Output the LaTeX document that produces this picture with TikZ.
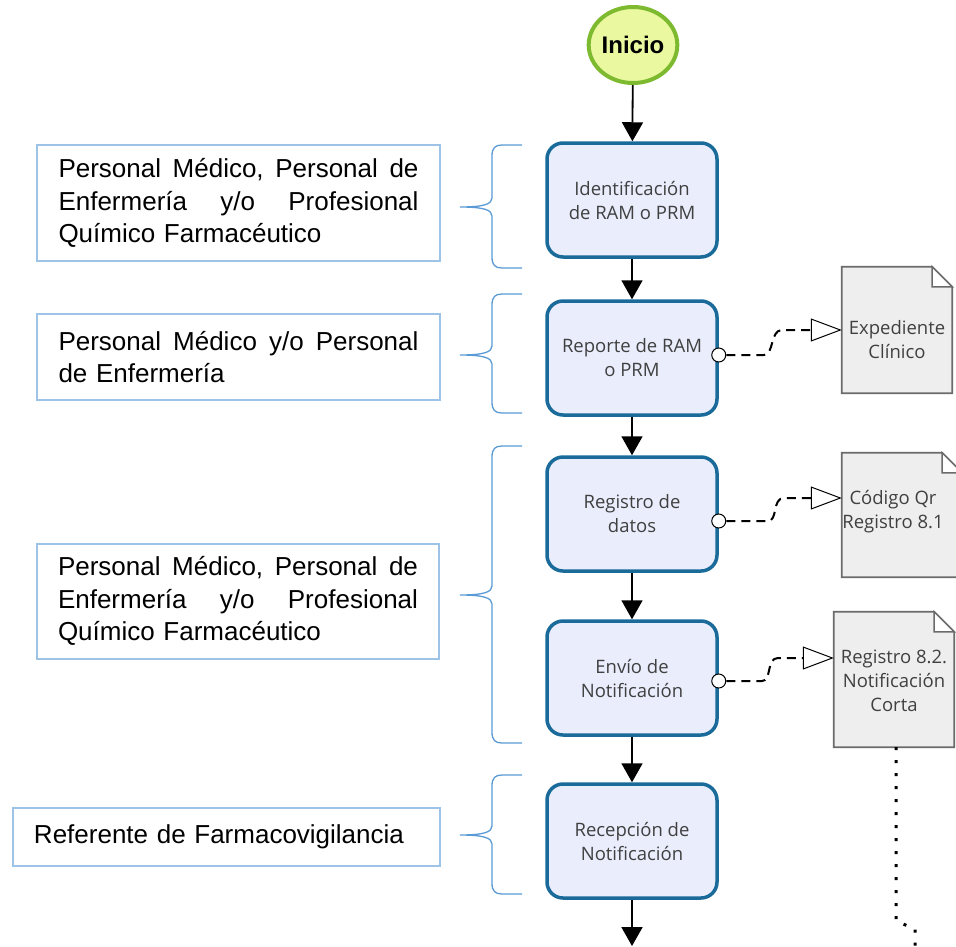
\documentclass[tikz,border=0pt]{standalone}
\usepackage{fontspec}
\setmainfont{Liberation Sans}
\newfontfamily\segf{Open Sans}
\usetikzlibrary{arrows.meta,shapes.geometric}
\definecolor{procfill}{HTML}{E9EDFC}
\definecolor{procdraw}{HTML}{1A6A9A}
\definecolor{lbdraw}{HTML}{9DC3E6}
\definecolor{brc}{HTML}{5B9BD5}
\definecolor{docfill}{HTML}{EEEEEE}
\definecolor{docdraw}{HTML}{6B6B6B}
\definecolor{txtgray}{HTML}{404040}
\definecolor{startfill}{HTML}{EAF8A0}
\definecolor{startdraw}{HTML}{7DBA2F}
\newcommand\mybrace[3]{%
  \draw[bracestyle] (522,#1) -- (502,#1) .. controls (495,#1) and (492,#1+3) .. (492,#1+11)
    -- (492,#2-9) .. controls (492,#2-3) and (484,#2) .. (460,#2)
    .. controls (484,#2) and (492,#2+3) .. (492,#2+9)
    -- (492,#3-11) .. controls (492,#3-3) and (495,#3) .. (502,#3) -- (522,#3);}
\newcommand\docshape[1]{%
  \filldraw[docline] (#1.south west) -- (#1.north west) -- ([xshift=-20pt]#1.north east)
    -- ([yshift=-20pt]#1.north east) -- (#1.south east) -- cycle;
  \filldraw[docfold] ([xshift=-20pt]#1.north east) -- ([xshift=-20pt,yshift=-20pt]#1.north east)
    -- ([yshift=-20pt]#1.north east) -- cycle;}
\newcommand\jline[1]{\leavevmode\hbox to 360pt{#1}}
\begin{document}
\begin{tikzpicture}[x=1pt,y=-1pt,
  procbox/.style={rectangle, rounded corners=16pt, draw=procdraw, fill=procfill, line width=3.5pt,
    minimum width=170pt, minimum height=114pt, inner sep=0pt, align=center,
    text=txtgray, font=\segf\fontsize{18.5}{24}\selectfont},
  leftbox/.style={rectangle, draw=lbdraw, line width=2pt, inner sep=0pt, align=left,
    font=\fontsize{26}{32.5}\selectfont},
  bracestyle/.style={draw=brc, line width=1.3pt},
  docbox/.style={rectangle, inner sep=0pt},
  docline/.style={fill=docfill, draw=docdraw, line width=1.8pt},
  docfold/.style={fill=white, draw=docdraw, line width=1.5pt},
  doctext/.style={inner sep=0pt, align=center, text=txtgray, font=\segf\fontsize{18.5}{24}\selectfont},
  flow/.style={line width=1.8pt, -{Triangle[width=21pt,length=19pt]}},
  assoc/.style={line width=2pt, dash pattern=on 9pt off 6pt,
    -{Triangle[width=23pt,length=31pt,fill=white,line width=1pt]}},
  port/.style={circle, draw=black, fill=white, line width=1pt, minimum size=14pt, inner sep=0pt},
  dotline/.style={line width=3pt, dash pattern=on 3pt off 10pt}]
\clip (0,0) rectangle (956,946);
\fill[white] (0,0) rectangle (956,946);

% start
\node[ellipse, draw=startdraw, fill=startfill, line width=4pt, minimum width=86pt, minimum height=76pt,
  inner sep=0pt, font=\bfseries\fontsize{24}{28}\selectfont] (start) at (633,45) {Inicio};

% process boxes
\node[procbox] (b1) at (632,200) {Identificación\\de RAM o PRM};
\node[procbox] (b2) at (632,358) {Reporte de RAM\\o PRM};
\node[procbox] (b3) at (632,514) {Registro de\\datos};
\node[procbox] (b4) at (632,678) {Envío de\\Notificación};
\node[procbox] (b5) at (632,841) {Recepción de\\Notificación};
\coordinate (end) at (632,946);

\draw[flow] (start) -- (b1);
\draw[flow] (b1) -- (b2);
\draw[flow] (b2) -- (b3);
\draw[flow] (b3) -- (b4);
\draw[flow] (b4) -- (b5);
\draw[flow] (b5) -- (end);

% left boxes
\node[leftbox, minimum width=403pt, minimum height=116pt, text width=360pt] (l1) at (238.5,203) {%
  \jline{Personal\hfill Médico,\hfill Personal\hfill de}\\
  \jline{Enfermería\hfill y/o\hfill Profesional}\\
  Químico Farmacéutico};
\node[leftbox, minimum width=403pt, minimum height=86pt, text width=360pt] (l2) at (238.5,357) {%
  \jline{Personal\hfill Médico\hfill y/o\hfill Personal}\\
  de Enfermería};
\node[leftbox, minimum width=402pt, minimum height=115pt, text width=360pt] (l3) at (238,601) {%
  \jline{Personal\hfill Médico,\hfill Personal\hfill de}\\
  \jline{Enfermería\hfill y/o\hfill Profesional}\\
  Químico Farmacéutico};
\node[leftbox, minimum width=427pt, minimum height=58pt, text width=385pt] (l4) at (226.5,837) {%
  Referente de Farmacovigilancia};

% braces
\mybrace{145}{207}{268}
\mybrace{294}{355}{413}
\mybrace{446}{595}{743}
\mybrace{775}{835}{894}

% documents
\node[docbox, minimum width=110pt, minimum height=126pt] (d1) at (897,330) {};
\node[docbox, minimum width=120pt, minimum height=124pt] (d2) at (902,515) {};
\node[docbox, minimum width=120pt, minimum height=135pt] (d3) at (894,679.5) {};
\docshape{d1}
\docshape{d2}
\docshape{d3}
\node[doctext] (d1t) at (897,340) {Expediente\\Clínico};
\node[doctext] (d2t) at (893,512) {Código Qr\\Registro 8.1};
\node[doctext] (d3t) at (894,681) {Registro 8.2.\\Notificación\\Corta};

% association connectors
\node[port] (c2) at ([yshift=3pt]b2.east) {};
\node[port] (c3) at ([yshift=-7pt]b3.east) {};
\node[port] (c4) at ([yshift=-3pt]b4.east) {};
\draw[assoc] (c2.east) -- (764,355) .. controls (774,355) and (770,330) .. (782,330) -- (d1.west);
\draw[assoc] (c3.east) -- (768,521) .. controls (778,521) and (772,498) .. (784,498) -- ([yshift=17pt]d2.west);
\draw[assoc] (c4.east) -- (762,681) .. controls (772,681) and (766,658) .. (778,658) -- ([yshift=21.5pt]d3.west);

% dotted continuation
\coordinate (dt1) at (896,921);
\coordinate (dt2) at (915,929);
\coordinate (dt3) at (915,950);
\draw[dotline] (d3.south -| dt1) -- (dt1) -- (dt2) -- (dt3);
\end{tikzpicture}
\end{document}
